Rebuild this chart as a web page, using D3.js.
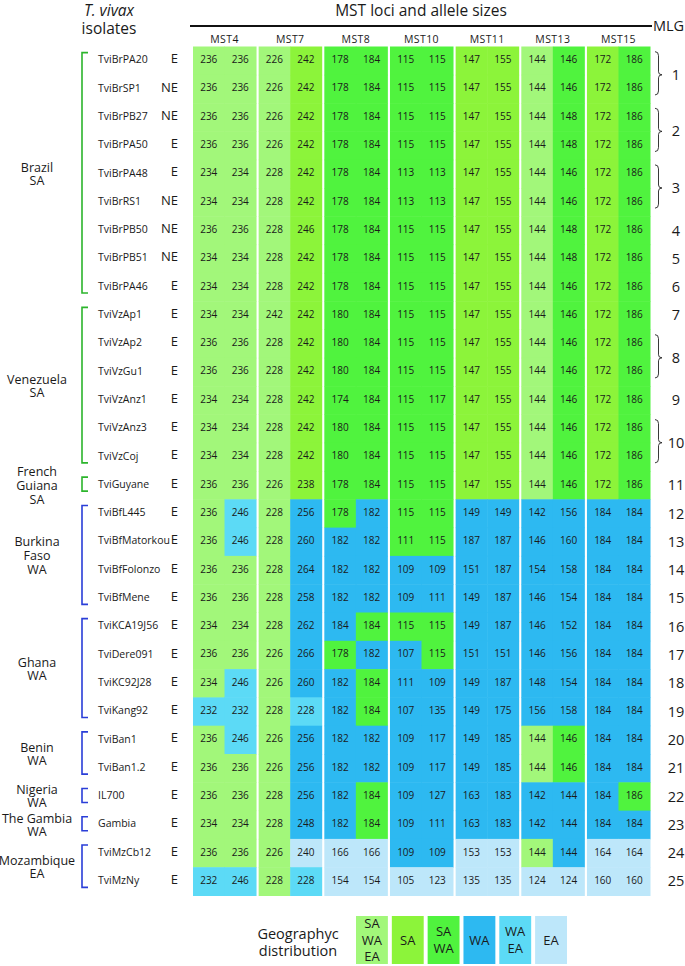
<!DOCTYPE html>
<html>
<head>
<meta charset="utf-8">
<script src="https://cdn.jsdelivr.net/npm/d3@7"></script>
<style>
  body { margin: 0; background: #fff; }
  text { font-family: "Open Sans", sans-serif; fill: #1a1a1a; }
</style>
</head>
<body>
<div id="chart"></div>
<script>
// MST loci and allele sizes for the T. vivax isolates
var loci = ["MST4", "MST7", "MST8", "MST10", "MST11", "MST13", "MST15"];

var isolates = ["TviBrPA20", "TviBrSP1", "TviBrPB27", "TviBrPA50", "TviBrPA48", "TviBrRS1",
  "TviBrPB50", "TviBrPB51", "TviBrPA46", "TviVzAp1", "TviVzAp2", "TviVzGu1", "TviVzAnz1",
  "TviVzAnz3", "TviVzCoj", "TviGuyane", "TviBfL445", "TviBfMatorkou", "TviBfFolonzo",
  "TviBfMene", "TviKCA19J56", "TviDere091", "TviKC92J28", "TviKang92", "TviBan1",
  "TviBan1.2", "IL700", "Gambia", "TviMzCb12", "TviMzNy"];

// E / NE column
var isolateStatus = ["E", "NE", "NE", "E", "E", "NE", "NE", "NE", "E", "E", "E", "E", "E", "E", "E",
  "E", "E", "E", "E", "E", "E", "E", "E", "E", "E", "E", "E", "E", "E", "E"];

var alleles = [
  [236,236, 226,242, 178,184, 115,115, 147,155, 144,146, 172,186],
  [236,236, 226,242, 178,184, 115,115, 147,155, 144,146, 172,186],
  [236,236, 226,242, 178,184, 115,115, 147,155, 144,148, 172,186],
  [236,236, 226,242, 178,184, 115,115, 147,155, 144,148, 172,186],
  [234,234, 228,242, 178,184, 113,113, 147,155, 144,146, 172,186],
  [234,234, 228,242, 178,184, 113,113, 147,155, 144,146, 172,186],
  [236,236, 228,246, 178,184, 115,115, 147,155, 144,148, 172,186],
  [234,234, 228,242, 178,184, 115,115, 147,155, 144,148, 172,186],
  [234,234, 228,242, 178,184, 115,115, 147,155, 144,146, 172,186],
  [234,234, 242,242, 180,184, 115,115, 147,155, 144,146, 172,186],
  [236,236, 228,242, 180,184, 115,115, 147,155, 144,146, 172,186],
  [236,236, 228,242, 180,184, 115,115, 147,155, 144,146, 172,186],
  [234,234, 228,242, 174,184, 115,117, 147,155, 144,146, 172,186],
  [234,234, 228,242, 180,184, 115,115, 147,155, 144,146, 172,186],
  [234,234, 228,242, 180,184, 115,115, 147,155, 144,146, 172,186],
  [236,236, 226,238, 178,184, 115,115, 147,155, 144,146, 172,186],
  [236,246, 228,256, 178,182, 115,115, 149,149, 142,156, 184,184],
  [236,246, 228,260, 182,182, 111,115, 187,187, 146,160, 184,184],
  [236,236, 228,264, 182,182, 109,109, 151,187, 154,158, 184,184],
  [236,236, 228,258, 182,182, 109,111, 149,187, 146,154, 184,184],
  [234,234, 228,262, 184,184, 115,115, 149,187, 146,152, 184,184],
  [236,236, 226,266, 178,182, 107,115, 151,151, 146,156, 184,184],
  [234,246, 226,260, 182,184, 111,109, 149,187, 148,154, 184,184],
  [232,232, 228,228, 182,184, 107,135, 149,175, 156,158, 184,184],
  [236,246, 226,256, 182,182, 109,117, 149,185, 144,146, 184,184],
  [236,236, 226,256, 182,182, 109,117, 149,185, 144,146, 184,184],
  [236,236, 228,256, 182,184, 109,127, 163,183, 142,144, 184,186],
  [234,234, 228,248, 182,184, 109,111, 163,183, 142,144, 184,184],
  [236,236, 226,240, 166,166, 109,109, 153,153, 144,144, 164,164],
  [232,246, 228,228, 154,154, 105,123, 135,135, 124,124, 160,160]
];

// geographic distribution of each allele
// L = SA/WA/EA, S = SA, G = SA/WA, W = WA, C = WA/EA, E = EA
var distribution = [
  "LLLSGGGGSSLGSG", "LLLSGGGGSSLGSG", "LLLSGGGGSSLGSG", "LLLSGGGGSSLGSG",
  "LLLSGGGGSSLGSG", "LLLSGGGGSSLGSG", "LLLSGGGGSSLGSG", "LLLSGGGGSSLGSG",
  "LLLSGGGGSSLGSG", "LLLSGGGGSSLGSG", "LLLSGGGGSSLGSG", "LLLSGGGGSSLGSG",
  "LLLSGGGGSSLGSG", "LLLSGGGGSSLGSG", "LLLSGGGGSSLGSG", "LLLSGGGGSSLGSG",
  "LCLWGWGGWWWWWW", "LCLWWWGGWWWWWW", "LLLWWWWWWWWWWW", "LLLWWWWWWWWWWW",
  "LLLWWGGGWWWWWW", "LLLWGWWGWWWWWW", "LCLWWGWWWWWWWW", "CCLCWGWWWWWWWW",
  "LCLWWWWWWWLGWW", "LLLWWWWWWWLGWW", "LLLWWGWWWWWWWG", "LLLWWGWWWWWWWW",
  "LLLEEEWWEELWEE", "CCLCEEEEEEEEEE"
];

var mlg = [1,1,2,2,3,3,4,5,6,7,8,8,9,10,10,11,12,13,14,15,16,17,18,19,20,21,22,23,24,25];

var countries = [["Brazil","SA"], ["Venezuela","SA"], ["French","Guiana","SA"],
  ["Burkina","Faso","WA"], ["Ghana","WA"], ["Benin","WA"], ["Nigeria","WA"],
  ["The Gambia","WA"], ["Mozambique","EA"]];
var countrySizes = [9, 6, 1, 4, 4, 2, 1, 1, 2];

var legendCodes = ["L", "S", "G", "W", "C", "E"];
var legendLabels = [["SA","WA","EA"], ["SA"], ["SA","WA"], ["WA"], ["WA","EA"], ["EA"]];
var legendColors = ["#a2f77a", "#8cf43a", "#50f33e", "#2db9f1", "#5cdaf6", "#bde7fa"];

var W = 685, H = 966;
var svg = d3.select("#chart").append("svg")
  .attr("width", W)
  .attr("height", H);

var color = d3.scaleOrdinal().domain(legendCodes).range(legendColors);

var x = d3.scaleBand().domain(loci).range([193, 650]).paddingInner(0.04);
var xSub = d3.scaleBand().domain([0, 1]).range([0, x.bandwidth()]);
var y = d3.scaleBand().domain(d3.range(isolates.length)).range([46.5, 895.5]);

// ---- header
svg.append("text")
  .attr("x", 421).attr("y", 16)
  .attr("text-anchor", "middle")
  .attr("font-size", 15.5)
  .text("MST loci and allele sizes");

svg.append("line")
  .attr("x1", 190).attr("x2", 652)
  .attr("y1", 26).attr("y2", 26)
  .attr("stroke", "#111").attr("stroke-width", 2);

svg.append("text")
  .attr("x", 653).attr("y", 31)
  .attr("font-size", 14.5)
  .text("MLG");

svg.append("text")
  .attr("x", 109).attr("y", 16)
  .attr("text-anchor", "middle")
  .attr("font-size", 15.5)
  .attr("font-style", "italic")
  .text("T. vivax");

svg.append("text")
  .attr("x", 109).attr("y", 34)
  .attr("text-anchor", "middle")
  .attr("font-size", 15.5)
  .text("isolates");

svg.selectAll(".locus")
  .data(loci)
  .enter().append("text")
  .attr("class", "locus")
  .attr("x", function(d) { return x(d) + x.bandwidth() / 2; })
  .attr("y", 43)
  .attr("text-anchor", "middle")
  .attr("font-size", 10.5)
  .attr("letter-spacing", 0.4)
  .text(function(d) { return d; });

// ---- cells
var cells = [];
alleles.forEach(function(row, r) {
  row.forEach(function(v, c) {
    cells.push({ r: r, locus: loci[Math.floor(c / 2)], sub: c % 2, value: v, code: distribution[r][c] });
  });
});

svg.selectAll(".cell")
  .data(cells)
  .enter().append("rect")
  .attr("class", "cell")
  .attr("x", function(d) { return x(d.locus) + xSub(d.sub); })
  .attr("y", function(d) { return y(d.r); })
  .attr("width", xSub.bandwidth() + 0.5)
  .attr("height", y.bandwidth() + 0.5)
  .attr("fill", function(d) { return color(d.code); });

svg.selectAll(".allele")
  .data(cells)
  .enter().append("text")
  .attr("class", "allele")
  .attr("x", function(d) { return x(d.locus) + xSub(d.sub) + xSub.bandwidth() / 2; })
  .attr("y", function(d) { return y(d.r) + y.bandwidth() / 2 - 1; })
  .attr("dy", "0.35em")
  .attr("text-anchor", "middle")
  .attr("font-size", 10)
  .text(function(d) { return d.value; });

// ---- isolate names and E / NE
svg.selectAll(".isolate")
  .data(isolates)
  .enter().append("text")
  .attr("class", "isolate")
  .attr("x", 98)
  .attr("y", function(d, i) { return y(i) + y.bandwidth() / 2 - 1; })
  .attr("dy", "0.35em")
  .attr("font-size", 10.5)
  .text(function(d) { return d; });

svg.selectAll(".status")
  .data(isolateStatus)
  .enter().append("text")
  .attr("class", "status")
  .attr("x", 178)
  .attr("y", function(d, i) { return y(i) + y.bandwidth() / 2 - 2; })
  .attr("dy", "0.35em")
  .attr("text-anchor", "end")
  .attr("font-size", 13)
  .text(function(d) { return d; });

// ---- country brackets and labels
var start = 0;
countries.forEach(function(lines, k) {
  var first = start, last = start + countrySizes[k] - 1;
  start = last + 1;
  var y0 = y(first) + y.bandwidth() / 2 - 8;
  var y1 = y(last) + y.bandwidth() / 2 + 6;
  var stroke = lines[lines.length - 1] === "SA" ? "#2cb52c" : "#2a3ed8";
  svg.append("path")
    .attr("d", "M88," + y0 + "H82V" + y1 + "H88")
    .attr("fill", "none")
    .attr("stroke", stroke)
    .attr("stroke-width", 1.6);

  var mid = (y(first) + y(last) + y.bandwidth()) / 2;
  var lh = lines.length > 2 ? 14 : 13;
  svg.append("text")
    .attr("text-anchor", "middle")
    .attr("font-size", 12.5)
    .selectAll("tspan")
    .data(lines)
    .enter().append("tspan")
    .attr("x", 37)
    .attr("y", function(d, i) { return mid + (i - (lines.length - 1) / 2) * lh; })
    .attr("dy", "0.35em")
    .text(function(d) { return d; });
});

// ---- MLG numbers and braces
var groups = [];
mlg.forEach(function(m, i) {
  var g = groups[groups.length - 1];
  if (g && g.m === m) g.last = i;
  else groups.push({ m: m, first: i, last: i });
});

groups.forEach(function(g) {
  var c0 = y(g.first) + y.bandwidth() / 2, c1 = y(g.last) + y.bandwidth() / 2;
  var ym = (c0 + c1) / 2;
  svg.append("text")
    .attr("x", 676)
    .attr("y", ym)
    .attr("dy", "0.35em")
    .attr("text-anchor", "middle")
    .attr("font-size", 14.5)
    .text(g.m);
  if (g.last > g.first) {
    var t = c0 - 9, b = c1 + 6, bx = 655;
    svg.append("path")
      .attr("d", "M" + bx + "," + t + "Q" + (bx + 3.5) + "," + t + " " + (bx + 3.5) + "," + (t + 4) +
        "V" + (ym - 3) + "Q" + (bx + 3.5) + "," + ym + " " + (bx + 7) + "," + ym +
        "Q" + (bx + 3.5) + "," + ym + " " + (bx + 3.5) + "," + (ym + 3) +
        "V" + (b - 4) + "Q" + (bx + 3.5) + "," + b + " " + bx + "," + b)
      .attr("fill", "none")
      .attr("stroke", "#222")
      .attr("stroke-width", 0.9);
  }
});

// ---- legend
var lx = d3.scaleBand().domain(legendCodes).range([356, 567]).paddingInner(0.11);
var ly0 = 916, ly1 = 964;

svg.append("text")
  .attr("text-anchor", "middle")
  .attr("font-size", 14.5)
  .selectAll("tspan")
  .data(["Geographyc", "distribution"])
  .enter().append("tspan")
  .attr("x", 298)
  .attr("y", function(d, i) { return 934 + i * 17; })
  .attr("dy", "0.35em")
  .text(function(d) { return d; });

legendCodes.forEach(function(code, i) {
  svg.append("rect")
    .attr("x", lx(code))
    .attr("y", ly0)
    .attr("width", lx.bandwidth())
    .attr("height", ly1 - ly0)
    .attr("fill", color(code));
  var lines = legendLabels[i];
  var mid = (ly0 + ly1) / 2;
  svg.append("text")
    .attr("text-anchor", "middle")
    .attr("font-size", 13)
    .selectAll("tspan")
    .data(lines)
    .enter().append("tspan")
    .attr("x", lx(code) + lx.bandwidth() / 2)
    .attr("y", function(d, j) { return mid + (j - (lines.length - 1) / 2) * 16.5; })
    .attr("dy", "0.35em")
    .text(function(d) { return d; });
});
</script>
</body>
</html>
